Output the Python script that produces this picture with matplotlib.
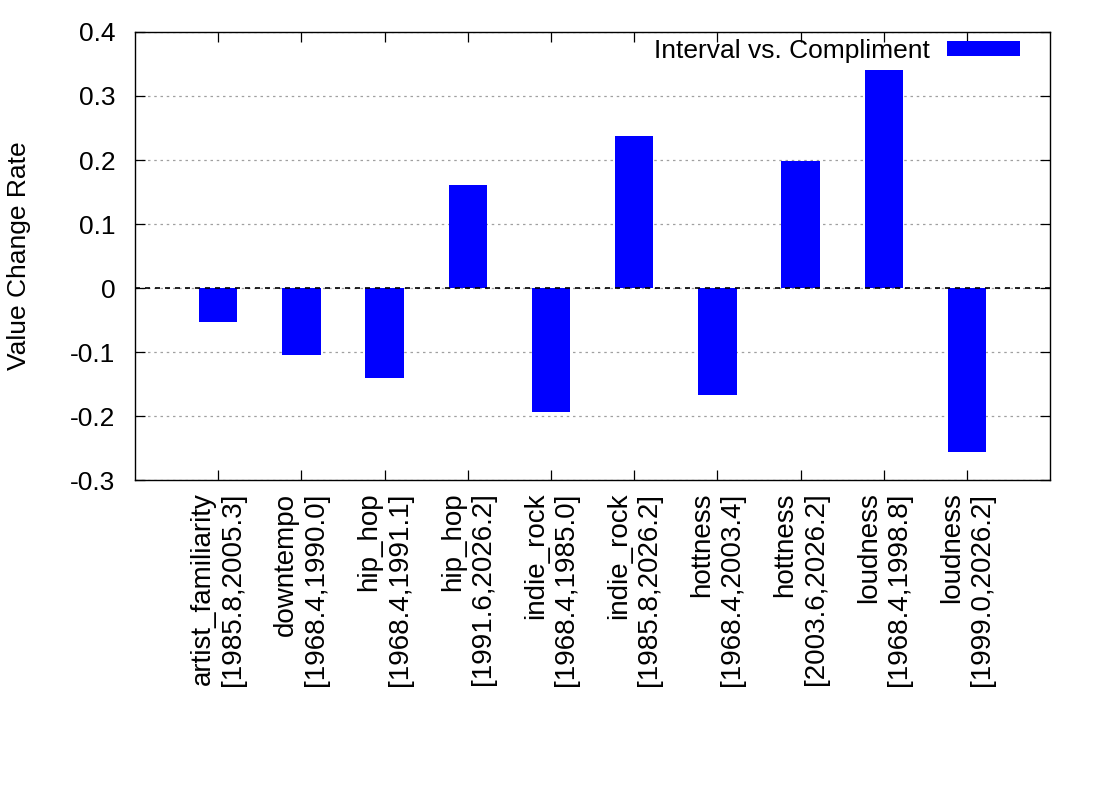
import matplotlib.pyplot as plt
import numpy as np

plt.rcParams['font.family'] = ['Liberation Sans', 'DejaVu Sans']

# data
features = ['artist_familiarity', 'downtempo', 'hip_hop', 'hip_hop', 'indie_rock',
            'indie_rock', 'hottness', 'hottness', 'loudness', 'loudness']
intervals = ['[1985.8,2005.3]', '[1968.4,1990.0]', '[1968.4,1991.1]', '[1991.6,2026.2]',
             '[1968.4,1985.0]', '[1985.8,2026.2]', '[1968.4,2003.4]', '[2003.6,2026.2]',
             '[1968.4,1998.8]', '[1999.0,2026.2]']
change_rate = [-0.053, -0.105, -0.141, 0.161, -0.194, 0.238, -0.167, 0.198, 0.341, -0.256]

labels = [f + '\n' + iv for f, iv in zip(features, intervals)]
x = np.arange(len(labels))

fig = plt.figure(figsize=(11, 8), dpi=100)
ax = fig.add_axes([0.1227, 0.4, 0.832, 0.56])

ax.bar(x, change_rate, width=0.46, color='#0000ff', label='Interval vs. Compliment', zorder=3)
ax.axhline(0, color='black', linestyle=(0, (3, 3)), linewidth=1.2, zorder=4)

ax.set_xlim(-1, 10)
ax.set_ylim(-0.3, 0.4)
ax.set_yticks(np.arange(-0.3, 0.41, 0.1))
ax.set_yticklabels(['-0.3', '-0.2', '-0.1', '0', '0.1', '0.2', '0.3', '0.4'])
ax.yaxis.grid(True, color='#a0a0a0', linestyle=(0, (2, 3)), linewidth=0.9)
ax.set_axisbelow(True)

ax.set_xticks(x)
ax.set_xticklabels(labels, rotation=90, ha='center', va='top', multialignment='right',
                   fontsize=20)
ax.tick_params(axis='both', direction='in', top=True, right=True, length=7, width=0.9)
ax.tick_params(axis='y', labelsize=19, pad=14)
ax.tick_params(axis='x', pad=9)

for s in ax.spines.values():
    s.set_linewidth(1.0)

ax.set_ylabel('Value Change Rate', fontsize=19)
ax.yaxis.set_label_coords(-0.114, 0.5)

ax.legend(loc='upper right', bbox_to_anchor=(0.987, 1.026), frameon=False, markerfirst=False,
          fontsize=19, handlelength=2.75, handleheight=0.55, handletextpad=0.65,
          borderaxespad=0.3)

fig.savefig('out.png', dpi=100)
